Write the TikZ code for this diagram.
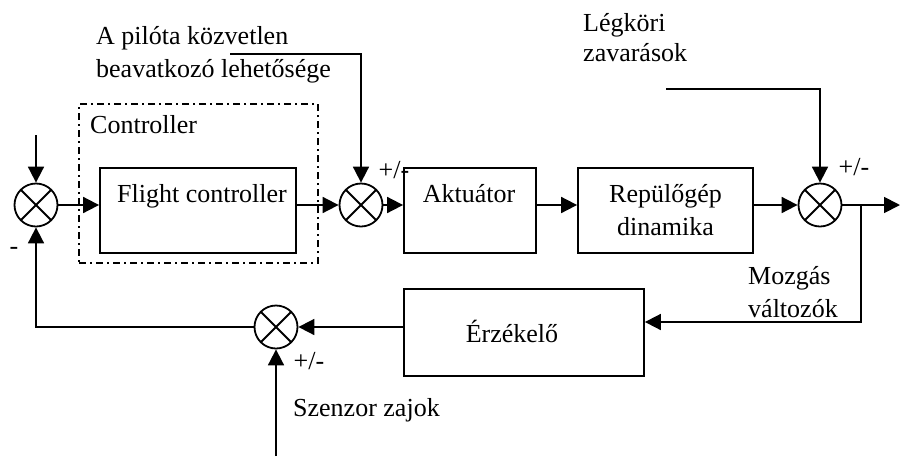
\documentclass[tikz,border=0pt]{standalone}
\usepackage{fontspec}
\setmainfont{Liberation Serif}
\usetikzlibrary{positioning,calc,arrows.meta}
\tikzstyle{block} = [rectangle, draw, line width=1.8pt, minimum height=85pt, inner sep=0pt]
\tikzstyle{sum} = [circle, draw, line width=1.8pt, minimum size=43pt, inner sep=0pt,
  path picture={\draw[line width=1.8pt] (path picture bounding box.north west) -- (path picture bounding box.south east)
  (path picture bounding box.north east) -- (path picture bounding box.south west);}]
\tikzstyle{arrow} = [-{Triangle[length=16pt, width=16pt]}, line width=1.8pt]
\tikzstyle{group} = [rectangle, draw, line width=1.8pt, dash pattern=on 7pt off 4pt on 2pt off 4pt, inner sep=0pt]
\tikzstyle{txt} = [inner sep=0pt, align=left]

\begin{document}
\begin{tikzpicture}[x=1pt, y=1pt, font=\fontsize{26}{30}\selectfont]
    \useasboundingbox (0,0) rectangle (900,-456);

    % Controller group
    \node[group, minimum width=239pt, minimum height=159pt] (ctrl) at (198.5,-183.5) {};
    \node[txt, anchor=west] (ctrllabel) at (90,-125) {Controller};

    % Blocks
    \node[block, minimum width=196pt] (fc) at (198,-210.5) {};
    \node[txt] (fctext) at (202,-196) {Flight controller};
    \node[block, minimum width=132pt] (akt) at (470,-210.5) {};
    \node[txt] (akttext) at (469,-194) {Aktuátor};
    \node[block, minimum width=175pt, align=center, font=\fontsize{26}{33}\selectfont] (rep) at (665.5,-210.5) {Repülőgép\\dinamika};
    \node[block, minimum width=240pt, minimum height=87pt] (sens) at (524,-332.5) {};
    \node[txt] (senstext) at (512,-331) {Érzékelő};

    % Summing junctions
    \node[sum] (sum1) at (36,-205) {};
    \node[sum] (sum2) at (361,-205) {};
    \node[sum] (sum3) at (820,-205) {};
    \node[sum] (sum4) at (276,-327) {};

    % Free ends
    \coordinate (in) at (36,-135);
    \coordinate (pilot) at (230,-54);
    \coordinate (dist) at (666,-89);
    \coordinate (out) at (900,-205);
    \coordinate (branch) at (861,-205);
    \coordinate (fb) at (861,-322);
    \coordinate (noise) at (276,-456);

    % Labels
    \node[txt, anchor=west, font=\fontsize{26}{33}\selectfont] (pilottext) at (96,-55) {A pilóta közvetlen\\beavatkozó lehetősége};
    \node[txt, anchor=west] (disttext) at (583,-38) {Légköri\\zavarások};
    \node[txt, anchor=west, font=\fontsize{26}{33}\selectfont] (movtext) at (748,-292) {Mozgás\\változók};
    \node[txt, anchor=west] (noisetext) at (293,-410) {Szenzor zajok};
    \node[txt] (sign1) at (14,-251) {-};
    \node[txt] (sign2) at (394,-170) {+/-};
    \node[txt] (sign3) at (854,-167) {+/-};
    \node[txt] (sign4) at (309,-361) {+/-};

    % Forward path
    \draw[arrow] (in) -- (sum1.north);
    \draw[arrow] (sum1.east) -- (fc.west |- sum1);
    \draw[arrow] (fc.east |- sum2) -- (sum2.west);
    \draw[arrow] (pilot) -| (sum2.north);
    \draw[arrow] (sum2.east) -- (akt.west |- sum2);
    \draw[arrow] (akt.east |- sum2) -- (rep.west |- sum2);
    \draw[arrow] (rep.east |- sum3) -- (sum3.west);
    \draw[arrow] (dist) -| (sum3.north);
    \draw[arrow] (sum3.east) -- (out);

    % Feedback path
    \draw[arrow] (branch) -- (fb) -- (sens.east |- fb);
    \draw[arrow] (sens.west |- sum4) -- (sum4.east);
    \draw[arrow] (noise) -- (sum4.south);
    \draw[arrow] (sum4.west) -| (sum1.south);
\end{tikzpicture}
\end{document}
